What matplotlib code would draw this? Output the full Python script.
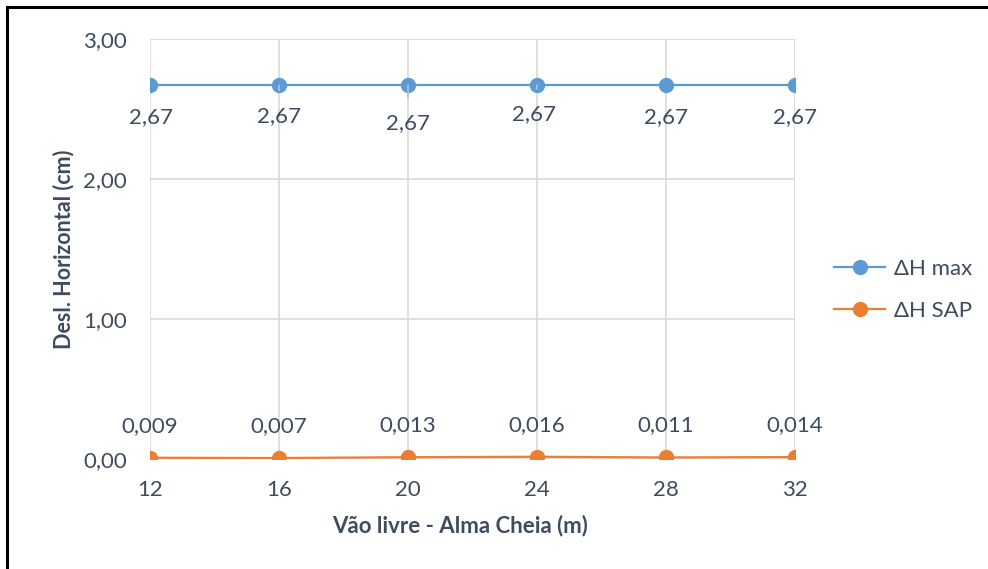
import matplotlib.pyplot as plt
from matplotlib.lines import Line2D

plt.rcParams['font.family'] = ['Lato', 'DejaVu Sans']

vaos = ['12', '16', '20', '24', '28', '32']
dh_max = [2.67, 2.67, 2.67, 2.67, 2.67, 2.67]
dh_sap = [0.009, 0.007, 0.013, 0.016, 0.011, 0.014]
y_ticks = [0.0, 1.0, 2.0, 3.0]

azul = '#5B9BD5'
laranja = '#ED7D31'
texto = '#3F4B5E'
grade = '#D9D9D9'
fs = 16


def virgula(v, casas):
    return f'{v:.{casas}f}'.replace('.', ',')


fig = plt.figure(figsize=(9.88, 5.69), dpi=100)
ax = fig.add_axes([150 / 988, 1 - 459 / 569, 645 / 988, 420 / 569])

x = list(range(len(vaos)))
ax.plot(x, dh_max, color=azul, lw=1.6, marker='o', ms=10, zorder=3)
ax.plot(x, dh_sap, color=laranja, lw=1.6, marker='o', ms=10, zorder=3)

ax.set_xlim(0, len(vaos) - 1)
ax.set_ylim(0, 3)
ax.set_xticks(x)
ax.set_xticklabels(vaos)
ax.set_yticks(y_ticks)
ax.set_yticklabels([virgula(v, 2) for v in y_ticks])
ax.tick_params(length=0, labelsize=fs, labelcolor=texto)
ax.tick_params(axis='x', pad=15)
ax.tick_params(axis='y', pad=16.5)
ax.grid(True, color=grade, lw=1.2)
ax.set_axisbelow(True)
for s in ax.spines.values():
    s.set_visible(False)

# rótulos de dados (deslocamento em pontos, linha guia opcional)
desl_max = [(1, -23), (0, -22), (0, -27), (-2, -21), (0, -23), (0, -23)]
guia_max = [False, True, True, True, False, False]
for i, v in enumerate(dh_max):
    dx, dy = desl_max[i]
    ap = None
    if guia_max[i]:
        ap = dict(arrowstyle='-', color='#BFBFBF', lw=1.2, shrinkA=9, shrinkB=0)
    ax.annotate(virgula(v, 2), (i, v), xytext=(dx, dy), textcoords='offset points',
                ha='center', va='center', fontsize=fs, color=texto, arrowprops=ap)

for i, v in enumerate(dh_sap):
    ax.annotate(virgula(v, 3), (i, v), xytext=(0, 23), textcoords='offset points',
                ha='center', va='center', fontsize=fs, color=texto)

ax.set_ylabel('Desl. Horizontal (cm)', fontsize=15.5, fontweight='bold', color=texto)
ax.yaxis.set_label_coords((74 - 150) / 645, 0.5)
fig.text(460 / 988, 1 - 526 / 569, 'Vão livre - Alma Cheia (m)', ha='center', va='center',
         fontsize=fs, fontweight='bold', color=texto)

itens = [Line2D([], [], color=azul, lw=1.6, marker='o', ms=10),
         Line2D([], [], color=laranja, lw=1.6, marker='o', ms=10)]
fig.legend(itens, ['ΔH max', 'ΔH SAP'], loc='center left', bbox_to_anchor=(814 / 988, 1 - 290 / 569),
           frameon=False, fontsize=fs, labelcolor=texto, handlelength=2.3, handletextpad=0.4,
           labelspacing=1.0)

# moldura do gráfico
fig.add_artist(Line2D([7 / 988, 7 / 988], [0, 1 - 7 / 569], color='black', lw=2.2))
fig.add_artist(Line2D([7 / 988, 1], [1 - 7 / 569, 1 - 7 / 569], color='black', lw=2.2))

fig.savefig('out.png', dpi=100)
